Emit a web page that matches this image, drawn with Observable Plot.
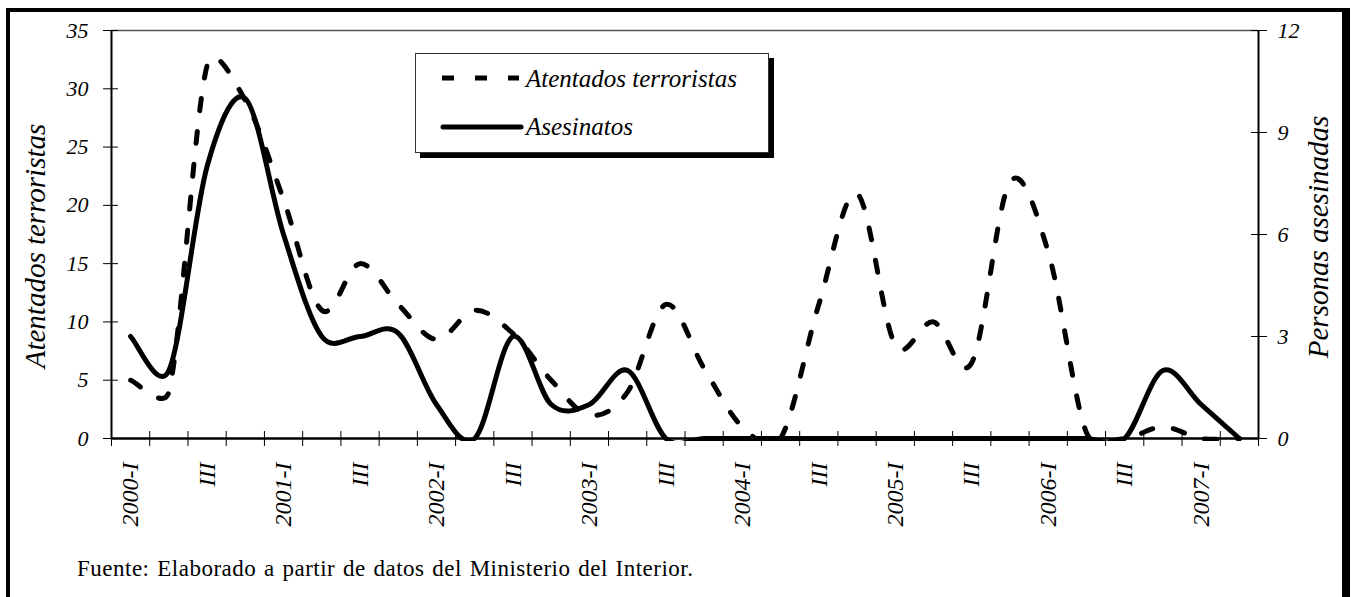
<!DOCTYPE html>
<html>
<head>
<meta charset="utf-8">
<script src="https://cdn.jsdelivr.net/npm/d3@7"></script>
<script src="https://cdn.jsdelivr.net/npm/@observablehq/plot@0.6"></script>
<style>
html,body{margin:0;padding:0;background:#fff;width:1351px;height:597px;overflow:hidden;}
#wrap{position:relative;width:1351px;height:597px;font-family:"Liberation Serif","Times New Roman",serif;color:#000;}
#frame{position:absolute;left:6px;top:8px;width:1332px;height:640px;border-top:4px solid #000;border-left:4px solid #000;border-right:8px solid #000;box-sizing:content-box;}
#chart{position:absolute;left:0;top:0;}
.vtitle{position:absolute;font-style:italic;font-size:29px;line-height:29px;white-space:nowrap;transform:translate(-50%,-50%) rotate(-90deg);}
#legend{position:absolute;left:415px;top:53px;width:352px;height:98px;border:1px solid #333;background:#fff;box-shadow:5px 5px 0 #000;}
#legend svg{display:block;}
#caption{position:absolute;left:77px;top:556px;font-size:23px;line-height:26px;letter-spacing:0.5px;word-spacing:1.5px;white-space:nowrap;}
</style>
</head>
<body>
<div id="wrap">
  <div id="frame"></div>
  <div id="chart"></div>
  <div class="vtitle" style="left:35px;top:246px;">Atentados terroristas</div>
  <div class="vtitle" style="left:1318px;top:237px;">Personas asesinadas</div>
  <div id="legend">
    <svg width="352" height="98">
      <line x1="26" y1="24" x2="103" y2="24" stroke="#000" stroke-width="5" stroke-dasharray="12,21"/>
      <text x="110" y="33" font-family="Liberation Serif" font-style="italic" font-size="25">Atentados terroristas</text>
      <line x1="27" y1="73" x2="105" y2="73" stroke="#000" stroke-width="5" stroke-linecap="round"/>
      <text x="110" y="81" font-family="Liberation Serif" font-style="italic" font-size="25">Asesinatos</text>
    </svg>
  </div>
  <div id="caption">Fuente: Elaborado a partir de datos del Ministerio del Interior.</div>
</div>
<script>
// Quarterly categories, 2000-I to 2007-II
const quarters = ["2000-I","2000-II","2000-III","2000-IV","2001-I","2001-II","2001-III","2001-IV",
  "2002-I","2002-II","2002-III","2002-IV","2003-I","2003-II","2003-III","2003-IV",
  "2004-I","2004-II","2004-III","2004-IV","2005-I","2005-II","2005-III","2005-IV",
  "2006-I","2006-II","2006-III","2006-IV","2007-I","2007-II"];
const quarterLabels = ["2000-I","","III","","2001-I","","III","","2002-I","","III","",
  "2003-I","","III","","2004-I","","III","","2005-I","","III","","2006-I","","III","","2007-I",""];
// Left axis: terrorist attacks
const atentados = [5, 4, 32, 29, 20.5, 11, 15, 11.5, 8.5, 11, 9, 5, 2, 4, 11.5,
  6, 1, 0, 11.5, 21, 8, 10, 6.5, 22, 16, 0.5, 0, 1, 0, 0];
// Right axis: people killed
const asesinatos = [3, 2, 8, 10, 6, 3, 3, 3.1, 1, 0, 3, 1, 1, 2, 0,
  0, 0, 0, 0, 0, 0, 0, 0, 0, 0, 0, 0, 2, 1, 0];
const leftTicks = [0, 5, 10, 15, 20, 25, 30, 35];
const rightTicks = [0, 3, 6, 9, 12];
const leftMax = 35, rightMax = 12;
const k = leftMax / rightMax;

// Spreadsheet-style smoothed line (Bezier handles 1/6 of chord, limited to half the segment)
function SmoothCurve(context) { this._context = context; }
SmoothCurve.prototype = {
  areaStart() {}, areaEnd() {},
  lineStart() { this._pts = []; },
  point(x, y) { this._pts.push([+x, +y]); },
  lineEnd() {
    const p = this._pts, ctx = this._context, n = p.length;
    if (!n) return;
    ctx.moveTo(p[0][0], p[0][1]);
    const dist = (a, b) => Math.hypot(b[0] - a[0], b[1] - a[1]);
    for (let i = 0; i < n - 1; i++) {
      const P0 = p[Math.max(i - 1, 0)], P1 = p[i], P2 = p[i + 1], P3 = p[Math.min(i + 2, n - 1)];
      const d12 = dist(P1, P2), d02 = dist(P0, P2), d13 = dist(P1, P3);
      let f1 = 1 / 6, f2 = 1 / 6;
      if (d02 / 6 >= d12 / 2) f1 = d02 ? d12 / d02 / 2 : 0;
      if (d13 / 6 >= d12 / 2) f2 = d13 ? d12 / d13 / 2 : 0;
      ctx.bezierCurveTo(
        P1[0] + (P2[0] - P0[0]) * f1, P1[1] + (P2[1] - P0[1]) * f1,
        P2[0] - (P3[0] - P1[0]) * f2, P2[1] - (P3[1] - P1[1]) * f2,
        P2[0], P2[1]);
    }
  }
};
const smooth = context => new SmoothCurve(context);

const data = quarters.map((q, i) => ({q, pos: i + 0.5, atentados: atentados[i], asesinatos: asesinatos[i] * k}));
const boundaries = d3.range(quarters.length + 1);
const centers = quarters.map((q, i) => i + 0.5);

const font = {fontFamily: "Liberation Serif", fontStyle: "italic", fontSize: 22};

const chart = Plot.plot({
  width: 1351, height: 597,
  marginLeft: 111, marginRight: 93, marginTop: 30, marginBottom: 159,
  style: {background: "transparent", color: "#000", fontFamily: "Liberation Serif", fontStyle: "italic", fontSize: "22px"},
  x: {domain: [0, quarters.length], axis: null},
  y: {domain: [0, leftMax], axis: null},
  marks: [
    Plot.ruleY([leftMax], {stroke: "#555", strokeWidth: 1.5}),
    Plot.ruleX([0], {stroke: "#000", strokeWidth: 2}),
    Plot.ruleX([quarters.length], {stroke: "#000", strokeWidth: 2}),
    // left axis: crossing ticks + labels
    Plot.axisY({anchor: "left", label: null, ticks: leftTicks, tickSize: 15, dx: 7, tickFormat: () => "", stroke: "#000"}),
    Plot.axisY({anchor: "left", label: null, ticks: leftTicks, tickSize: 0, tickPadding: 23, tickFormat: d => d, ...font}),
    // right axis
    Plot.axisY({anchor: "right", label: null, ticks: rightTicks.map(v => v * k), tickSize: 16, dx: -8, tickFormat: () => "", stroke: "#000"}),
    Plot.axisY({anchor: "right", label: null, ticks: rightTicks.map(v => v * k), tickSize: 0, tickPadding: 19, tickFormat: v => Math.round(v / k), ...font}),
    // bottom axis
    Plot.axisX({anchor: "bottom", label: null, ticks: boundaries, tickSize: 15, dy: -7, tickFormat: () => "", stroke: "#000"}),
    Plot.axisX({anchor: "bottom", label: null, ticks: centers, tickSize: 0, tickPadding: 24, tickRotate: -90,
      tickFormat: d => quarterLabels[Math.round(d - 0.5)], ...font, fontSize: 24}),
    Plot.ruleY([0], {stroke: "#000", strokeWidth: 2.5}),
    Plot.line(data, {x: "pos", y: "atentados", curve: smooth, stroke: "#000", strokeWidth: 5,
      strokeDasharray: "12,21", clip: true}),
    Plot.line(data, {x: "pos", y: "asesinatos", curve: smooth, stroke: "#000", strokeWidth: 5, clip: true})
  ]
});
// let the line thickness at the zero baseline remain visible (clip only the dips below zero)
chart.querySelectorAll("clipPath rect").forEach(r => {
  const h = +r.getAttribute("height");
  r.setAttribute("height", h + 3);
});
document.getElementById("chart").appendChild(chart);
</script>
</body>
</html>
